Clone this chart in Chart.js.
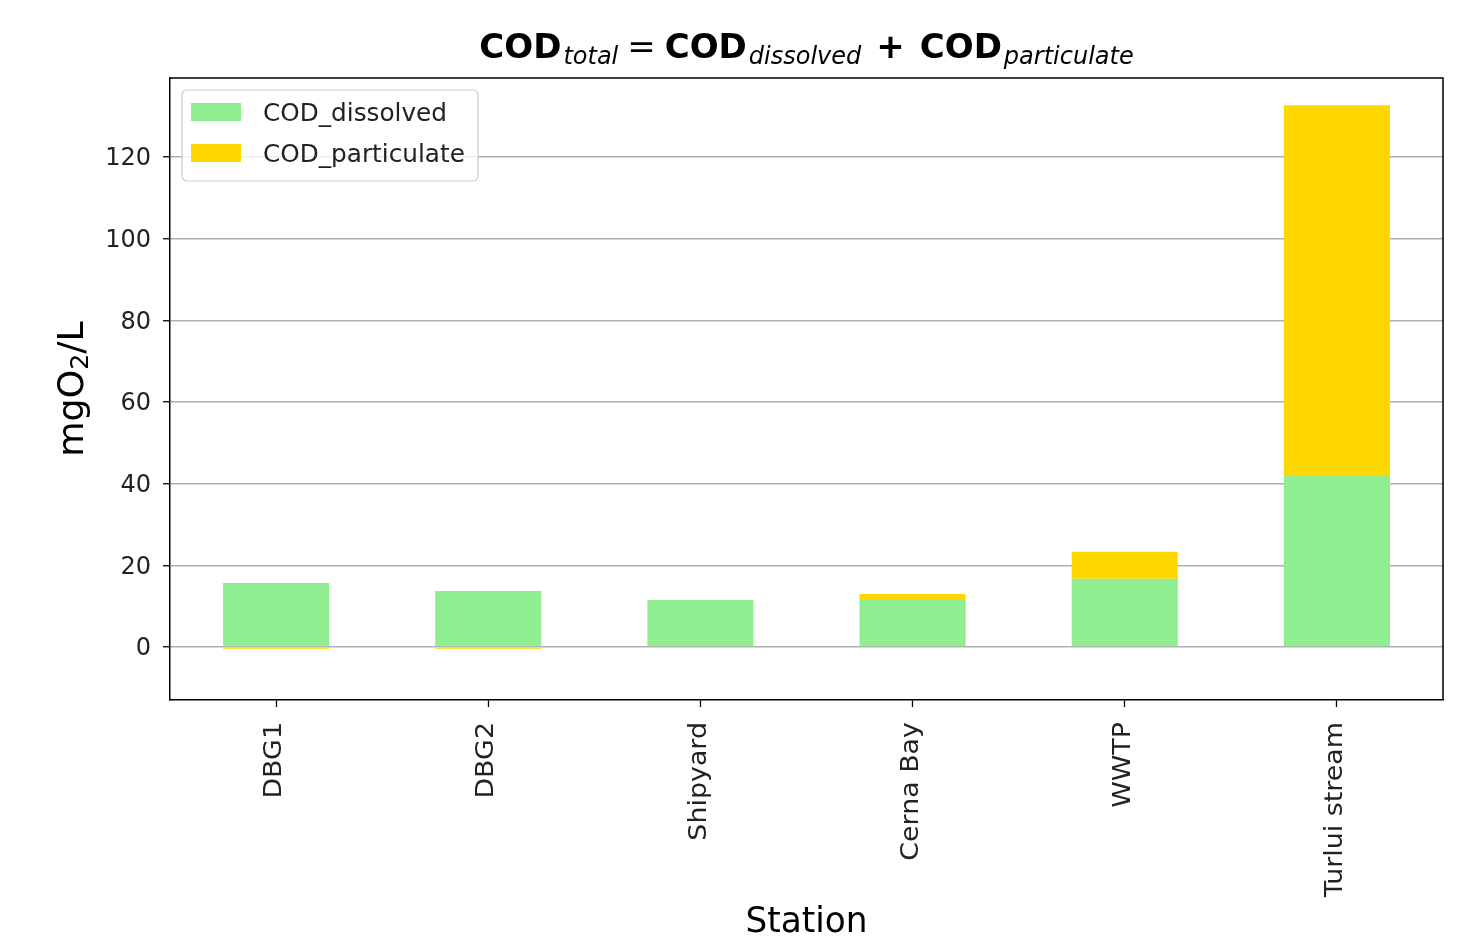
<!DOCTYPE html>
<html>
<head>
<meta charset="utf-8">
<title>COD stations</title>
<script src="https://cdn.jsdelivr.net/npm/chart.js@4"></script>
<style>
	html,body{margin:0;padding:0;background:#fff;}
	#wrap{width:1474px;height:938px;position:relative;}
</style>
</head>
<body>
<div id="wrap"><canvas id="chart" width="1474" height="938"></canvas></div>
<script>
// data
const stations = ['DBG1','DBG2','Shipyard','Cerna Bay','WWTP','Turlui stream'];
const codDissolved = [15.7, 13.7, 11.5, 11.5, 16.7, 41.9];
const codParticulate = [-0.4, -0.4, 0, 1.5, 6.6, 90.8];
const yTicks = [0, 20, 40, 60, 80, 100, 120];

const FONT = "'DejaVu Sans', sans-serif";
const GREEN = '#90ee90';
const GOLD = '#ffd700';

// frame, title, legend, tick labels and axis titles drawn by hand (matplotlib look)
const decorPlugin = {
	id: 'decor',
	afterDraw(chart){
		const ctx = chart.ctx;
		const a = chart.chartArea;
		ctx.save();

		// top and right spines
		ctx.strokeStyle = '#000';
		ctx.lineWidth = 1.5;
		ctx.beginPath();
		ctx.moveTo(a.left, a.top); ctx.lineTo(a.right, a.top); ctx.lineTo(a.right, a.bottom);
		ctx.stroke();

		// title: COD_total = COD_dissolved + COD_particulate
		const parts = [
			{t:'COD', f:'bold 34px ' + FONT, dy:0, gap:0},
			{t:'total', f:'italic 24px ' + FONT, dy:6, gap:2},
			{t:'=', f:'34px ' + FONT, dy:0, gap:9},
			{t:'COD', f:'bold 34px ' + FONT, dy:0, gap:9},
			{t:'dissolved', f:'italic 24px ' + FONT, dy:6, gap:2},
			{t:'+', f:'bold 34px ' + FONT, dy:0, gap:15},
			{t:'COD', f:'bold 34px ' + FONT, dy:0, gap:15},
			{t:'particulate', f:'italic 24px ' + FONT, dy:6, gap:2}
		];
		let total = 0;
		parts.forEach(p => { ctx.font = p.f; p.w = ctx.measureText(p.t).width; total += p.gap + p.w; });
		let x = (a.left + a.right) / 2 - total / 2;
		ctx.fillStyle = '#000';
		ctx.textBaseline = 'alphabetic';
		ctx.textAlign = 'left';
		parts.forEach(p => {
			x += p.gap;
			ctx.font = p.f;
			ctx.fillText(p.t, x, 58 + p.dy);
			x += p.w;
		});

		// legend box
		const lx = a.left + 12, ly = a.top + 12, lw = 296, lh = 91;
		ctx.fillStyle = 'rgba(255,255,255,0.8)';
		ctx.strokeStyle = '#cccccc';
		ctx.lineWidth = 1.2;
		ctx.beginPath();
		ctx.roundRect(lx, ly, lw, lh, 5);
		ctx.fill(); ctx.stroke();
		const items = [['COD_dissolved', GREEN], ['COD_particulate', GOLD]];
		items.forEach((it, i) => {
			const cy = ly + 22 + i * 41;
			ctx.fillStyle = it[1];
			ctx.fillRect(lx + 9, cy - 9, 50, 18);
			ctx.fillStyle = '#222';
			ctx.font = '24px ' + FONT;
			ctx.textBaseline = 'middle';
			ctx.save();
			ctx.translate(lx + 81, cy + 3);
			ctx.scale(1.03, 1);
			ctx.fillText(it[0], 0, 0);
			ctx.restore();
		});

		// y tick labels
		const ys = chart.scales.y;
		ctx.fillStyle = '#222';
		ctx.font = '24px ' + FONT;
		ctx.textAlign = 'right';
		ctx.textBaseline = 'middle';
		yTicks.forEach(v => {
			ctx.fillText(String(v), a.left - 19, ys.getPixelForValue(v) + 2);
		});

		// x tick labels, rotated 90deg, top end at the tick
		const xs = chart.scales.x;
		stations.forEach((s, i) => {
			ctx.save();
			ctx.translate(xs.getPixelForTick(i) - 1, a.bottom + 22);
			ctx.rotate(-Math.PI / 2);
			ctx.scale(1.12, 1);
			ctx.fillText(s, 0, 0);
			ctx.restore();
		});

		// x axis title
		ctx.fillStyle = '#000';
		ctx.font = '33px ' + FONT;
		ctx.textAlign = 'center';
		ctx.textBaseline = 'alphabetic';
		ctx.save();
		ctx.translate((a.left + a.right) / 2, 932);
		ctx.scale(1.04, 1.05);
		ctx.fillText('Station', 0, 0);
		ctx.restore();

		// y axis title mgO2/L with subscript
		ctx.translate(83, (a.top + a.bottom) / 2);
		ctx.rotate(-Math.PI / 2);
		ctx.scale(1.1, 1.05);
		const yl = [
			{t:'mgO', f:'33px ' + FONT, dy:0},
			{t:'2', f:'23px ' + FONT, dy:5},
			{t:'/L', f:'33px ' + FONT, dy:0}
		];
		let yw = 0;
		yl.forEach(p => { ctx.font = p.f; p.w = ctx.measureText(p.t).width; yw += p.w; });
		let yx = -yw / 2;
		ctx.textAlign = 'left';
		yl.forEach(p => {
			ctx.font = p.f;
			ctx.fillText(p.t, yx, p.dy);
			yx += p.w;
		});
		ctx.restore();
	}
};

new Chart(document.getElementById('chart').getContext('2d'), {
	type: 'bar',
	data: {
		labels: stations,
		datasets: [
			{label:'COD_dissolved', data: codDissolved, backgroundColor: GREEN, borderWidth: 0},
			{label:'COD_particulate', data: codParticulate, backgroundColor: GOLD, borderWidth: 0}
		]
	},
	options: {
		responsive: false,
		animation: false,
		layout: { padding: { left: 0, top: 78, right: 31, bottom: 0 } },
		plugins: { legend: { display: false }, title: { display: false }, tooltip: { enabled: false } },
		datasets: { bar: { categoryPercentage: 1, barPercentage: 0.5 } },
		scales: {
			x: {
				stacked: true,
				offset: true,
				grid: { offset: false, drawOnChartArea: false, drawTicks: true, tickLength: 7, tickColor: '#000', tickWidth: 1.3 },
				border: { color: '#000', width: 1.5 },
				ticks: { display: false },
				afterFit(scale){ scale.height = 238; }
			},
			y: {
				stacked: true,
				min: -12.98,
				max: 139.36,
				grid: { color: '#b0b0b0', lineWidth: 1.5, tickLength: 7, tickColor: '#000', tickWidth: 1.3 },
				border: { color: '#000', width: 1.5 },
				ticks: { display: false, stepSize: 20 },
				afterBuildTicks(scale){ scale.ticks = yTicks.map(v => ({ value: v })); },
				afterFit(scale){ scale.width = 170; }
			}
		}
	},
	plugins: [decorPlugin]
});
</script>
</body>
</html>
